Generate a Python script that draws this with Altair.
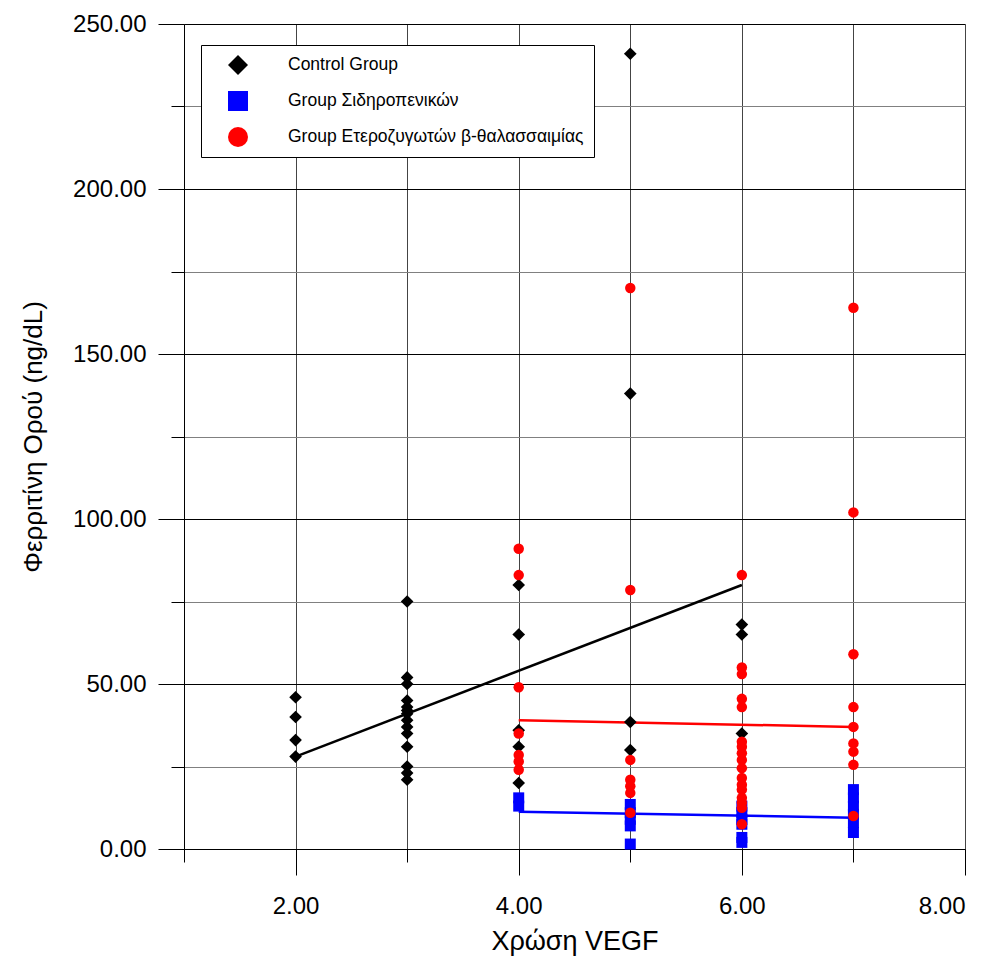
import altair as alt
import pandas as pd

# ---- data ----
ctrl_x = [2, 2, 2, 2,
          3, 3, 3, 3, 3, 3, 3, 3, 3, 3, 3, 3, 3, 3,
          4, 4, 4, 4, 4,
          5, 5, 5, 5,
          6, 6, 6]
ctrl_y = [46, 40, 33, 28,
          75, 52, 50, 45, 43, 42, 41, 39, 37, 35, 31, 25, 23, 21,
          80, 65, 36, 31, 20,
          241, 138, 38.5, 30,
          68, 65, 35]

sid_x = [4, 4,
         5, 5, 5, 5, 5,
         6, 6, 6, 6, 6, 6,
         7, 7, 7, 7, 7, 7]
sid_y = [15.5, 13,
         13.5, 11, 9, 7, 1.5,
         13, 11, 9, 7.5, 3.5, 2,
         18, 15.5, 13, 10.5, 8, 5]

thal_x = [4, 4, 4, 4, 4, 4, 4,
          5, 5, 5, 5, 5, 5, 5,
          6, 6, 6, 6, 6, 6, 6, 6, 6, 6, 6, 6, 6, 6, 6, 6, 6,
          7, 7, 7, 7, 7, 7, 7, 7, 7]
thal_y = [91, 83, 49, 35, 28.5, 26.5, 24,
          170, 78.5, 27, 21, 19, 17, 11,
          83, 55, 53, 45.5, 43, 32.5, 31, 29, 27, 24.5, 21.5, 19.5, 18, 15.5, 14, 12.5, 7.5,
          164, 102, 59, 43, 37, 32, 29.5, 25.5, 10]

# fitted lines (end points)
ctrl_fit_x = [2, 6]
ctrl_fit_y = [28, 80]
sid_fit_x = [4, 7]
sid_fit_y = [11.3, 9.5]
thal_fit_x = [4, 7]
thal_fit_y = [39, 37]

groups = ["Control Group", "Group Σιδηροπενικών", "Group Ετεροζυγωτών β-θαλασσαιμίας"]
colors = ["#000000", "#0000ff", "#ff0000"]
shapes = ["diamond", "square", "circle"]

FONT = "Liberation Sans"

xscale = alt.Scale(domain=[1, 8], nice=False, zero=False)
yscale = alt.Scale(domain=[0, 250], nice=False)

xaxis = alt.Axis(
    values=[1, 2, 3, 4, 5, 6, 7, 8],
    labelExpr="datum.value % 2 == 0 ? format(datum.value, '.2f') : ''",
    tickSize={"condition": {"test": "datum.value % 2 == 0", "value": 26}, "value": 13},
    tickColor="black", tickWidth=1,
    domainColor="black", domainWidth=1,
    grid=True, gridColor="#444444", gridWidth=1,
    labelFont=FONT, labelFontSize=24, labelColor="black", labelPadding=19,
    labelOverlap=False,
    title="Χρώση VEGF", titleFont=FONT, titleFontSize=27, titleFontWeight="normal",
    titleColor="black", titleX=390.5, titleY=100, titleBaseline="alphabetic",
    titleAlign="center",
)
yaxis = alt.Axis(
    values=[0, 25, 50, 75, 100, 125, 150, 175, 200, 225, 250],
    labelExpr="datum.value % 50 == 0 ? format(datum.value, '.2f') : ''",
    tickSize={"condition": {"test": "datum.value % 50 == 0", "value": 26}, "value": 13},
    tickColor="black", tickWidth=1,
    domainColor="black", domainWidth=1,
    grid=True,
    gridColor={"condition": {"test": "datum.value % 50 == 0", "value": "#000000"}, "value": "#808080"},
    gridWidth=1,
    labelFont=FONT, labelFontSize=24, labelColor="black", labelPadding=12,
    labelOverlap=False,
    title="Φερριτίνη Ορού (ng/dL)", titleFont=FONT, titleFontSize=26, titleFontWeight="normal",
    titleColor="black", titleX=-151, titleY=412.5, titleAngle=270,
    titleBaseline="middle", titleAlign="center",
)

legend = alt.Legend(
    orient="none", legendX=17, legendY=21, title=None,
    strokeColor="black", fillColor="white",
    padding=10, symbolOffset=17, labelOffset=40, rowPadding=16,
    symbolSize=400, symbolStrokeWidth=0,
    labelFont=FONT, labelFontSize=17.5, labelColor="black",
    cornerRadius=0, labelLimit=400)

def pts(xs, ys, g, size):
    d = pd.DataFrame({"x": xs, "y": ys, "g": g})
    return alt.Chart(d).mark_point(filled=True, opacity=1, strokeWidth=0, size=size).encode(
        x=alt.X("x:Q", scale=xscale, axis=xaxis),
        y=alt.Y("y:Q", scale=yscale, axis=yaxis),
        color=alt.Color("g:N", scale=alt.Scale(domain=groups, range=colors), legend=legend),
        shape=alt.Shape("g:N", scale=alt.Scale(domain=groups, range=shapes), legend=legend),
    )

def fit(xs, ys, col):
    d = pd.DataFrame({"x": xs, "y": ys})
    return alt.Chart(d).mark_line(color=col, strokeWidth=2.5).encode(
        x=alt.X("x:Q", scale=xscale, axis=xaxis),
        y=alt.Y("y:Q", scale=yscale, axis=yaxis),
    )

chart = alt.layer(
    fit(ctrl_fit_x, ctrl_fit_y, "#000000"),
    fit(sid_fit_x, sid_fit_y, "#0000ff"),
    fit(thal_fit_x, thal_fit_y, "#ff0000"),
    pts(sid_x, sid_y, groups[1], 121),
    pts(ctrl_x, ctrl_y, groups[0], 160),
    pts(thal_x, thal_y, groups[2], 110),
).properties(
    width=781, height=825,
    autosize=alt.AutoSizeParams(type="none"),
    padding={"left": 184, "top": 24, "right": 28, "bottom": 107},
    background="white",
).configure_view(strokeWidth=0)

chart.save("out.html", embed_options={"renderer": "svg", "actions": False})
